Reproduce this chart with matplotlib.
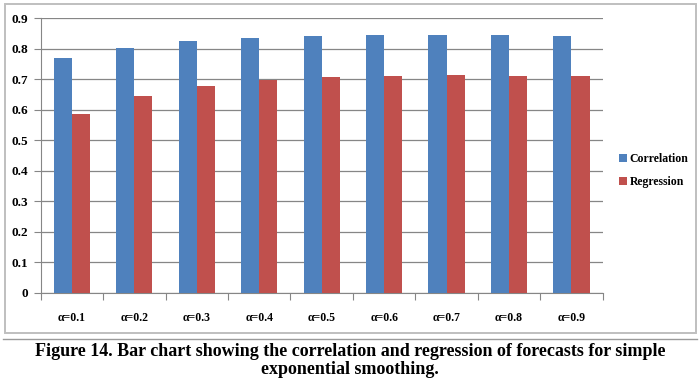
import matplotlib.pyplot as plt
import numpy as np
from matplotlib.patches import Rectangle
from matplotlib.lines import Line2D

# --- data ---
categories = ['α=0.1', 'α=0.2', 'α=0.3', 'α=0.4', 'α=0.5',
              'α=0.6', 'α=0.7', 'α=0.8', 'α=0.9']
correlation = [0.769, 0.801, 0.825, 0.835, 0.842, 0.846, 0.846, 0.846, 0.843]
regression = [0.587, 0.646, 0.678, 0.699, 0.707, 0.711, 0.714, 0.711, 0.710]
y_ticks = [0, 0.1, 0.2, 0.3, 0.4, 0.5, 0.6, 0.7, 0.8, 0.9]
caption_lines = ['Figure 14. Bar chart showing the correlation and regression of forecasts for simple',
                 'exponential smoothing.']

BLUE = '#4F81BD'
RED = '#C0504D'
SERIF = ['Liberation Serif', 'DejaVu Serif']

W, H = 700, 385
fig = plt.figure(figsize=(W / 100, H / 100), dpi=100)

# chart frame (with the second line under it)
fig.add_artist(Rectangle((4.5 / W, 1 - 333 / H), 691 / W, 329 / H, transform=fig.transFigure,
                         facecolor='none', edgecolor='#BFBFBF', linewidth=1.4))
fig.add_artist(Line2D([3 / W, 697 / W], [1 - 339 / H, 1 - 339 / H], transform=fig.transFigure,
                      color='#9A9A9A', linewidth=1.0))

ax = fig.add_axes([40.7 / W, 1 - 292.7 / H, 562 / W, 274.4 / H])
x = np.arange(len(categories))
bw = 0.29
ax.bar(x - bw / 2, correlation, bw, color=BLUE, label='Correlation', zorder=3)
ax.bar(x + bw / 2, regression, bw, color=RED, label='Regression', zorder=3)

ax.set_xlim(-0.5, len(categories) - 0.5)
ax.set_ylim(0, 0.9)
ax.set_yticks(y_ticks)
ax.set_yticklabels(['0' if v == 0 else f'{v:.1f}' for v in y_ticks],
                   family=SERIF, fontweight='bold', fontsize=9.5)
ax.set_xticks(np.arange(len(categories) + 1) - 0.5)
ax.set_xticklabels([])
ax.set_xticks(x, minor=True)
ax.set_xticklabels(categories, minor=True, family=SERIF, fontweight='bold', fontsize=8.5)
ax.tick_params(axis='x', which='minor', length=0, pad=14)
ax.tick_params(axis='x', which='major', length=5, color='#868686', direction='out')
ax.tick_params(axis='y', length=5, color='#868686', pad=4)

ax.grid(axis='y', color='#868686', linewidth=0.9, zorder=0)
for s in ['top', 'right']:
    ax.spines[s].set_visible(False)
for s in ['left', 'bottom']:
    ax.spines[s].set_color('#868686')

leg = ax.legend(loc='center left', bbox_to_anchor=(1.01, 0.445), frameon=False,
                prop={'family': SERIF, 'weight': 'bold', 'size': 8.5},
                handlelength=0.7, handleheight=0.7, handletextpad=0.2, labelspacing=0.9)

for i, line in enumerate(caption_lines):
    fig.text(0.5, 1 - (352 + 18 * i) / H, line, ha='center', va='center', family=SERIF,
             fontweight='bold', fontsize=13)

fig.savefig('out.png', dpi=100, facecolor='white')
